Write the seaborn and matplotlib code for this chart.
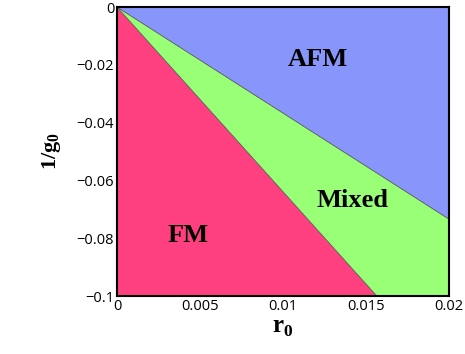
import numpy as np
import seaborn as sns
import matplotlib.pyplot as plt
import pandas as pd

# phase boundaries (straight lines from the origin)
r0 = [0.0, 0.02]
fm_mixed = [0.0, -0.1278]    # FM / Mixed boundary, hits y=-0.1 at r0~0.0157
mixed_afm = [0.0, -0.0734]   # Mixed / AFM boundary

xticks = [0, 0.005, 0.01, 0.015, 0.02]
xticklabels = ["0", "0.005", "0.01", "0.015", "0.02"]
yticks = [0, -0.02, -0.04, -0.06, -0.08, -0.1]
yticklabels = ["0", "\u22120.02", "\u22120.04", "\u22120.06", "\u22120.08", "\u22120.1"]

phases = ["AFM", "Mixed", "FM"]
label_x = [0.0121, 0.0142, 0.0043]
label_y = [-0.0183, -0.0671, -0.0792]

df = pd.DataFrame({"r0": r0, "fm": fm_mixed, "afm": mixed_afm})

sns.set_style("white")
plt.rcParams["mathtext.fontset"] = "custom"
plt.rcParams["mathtext.bf"] = "Liberation Serif:bold"
plt.rcParams["mathtext.rm"] = "Liberation Serif"
plt.rcParams["text.color"] = "black"
plt.rcParams["axes.labelcolor"] = "black"
plt.rcParams["xtick.color"] = "black"
plt.rcParams["ytick.color"] = "black"

fig = plt.figure(figsize=(4.65, 3.54), dpi=100)
ax = fig.add_axes([0.2516, 0.1638, 0.714, 0.8162])

ax.fill_between(df["r0"], -0.2, df["fm"], color="#FF4080", lw=0)
ax.fill_between(df["r0"], df["fm"], df["afm"], color="#99FF77", lw=0)
ax.fill_between(df["r0"], df["afm"], 0.1, color="#8896FC", lw=0)
sns.lineplot(data=df, x="r0", y="fm", ax=ax, color="#555555", lw=0.6)
sns.lineplot(data=df, x="r0", y="afm", ax=ax, color="#555555", lw=0.6)

ax.set_xlim(0, 0.02)
ax.set_ylim(-0.1, 0)
ax.set_xticks(xticks)
ax.set_xticklabels(xticklabels, fontsize=10.5, family="Open Sans")
ax.set_yticks(yticks)
ax.set_yticklabels(yticklabels, fontsize=10.5, family="Open Sans")
ax.tick_params(length=0, pad=2)

for name, x, y in zip(phases, label_x, label_y):
    ax.text(x, y, name, ha="center", va="center", fontsize=19,
            fontweight="bold", family="Liberation Serif", color="black")

ax.set_xlabel(r"$\mathbf{r}_{\mathbf{0}}$", fontsize=18, labelpad=1)
ax.set_ylabel(r"$\mathbf{1/g}_{\mathbf{0}}$", fontsize=16, labelpad=10)

for s in ax.spines.values():
    s.set_visible(True)
    s.set_color("black")
    s.set_linewidth(1.5)

fig.savefig("out.png", dpi=100)
